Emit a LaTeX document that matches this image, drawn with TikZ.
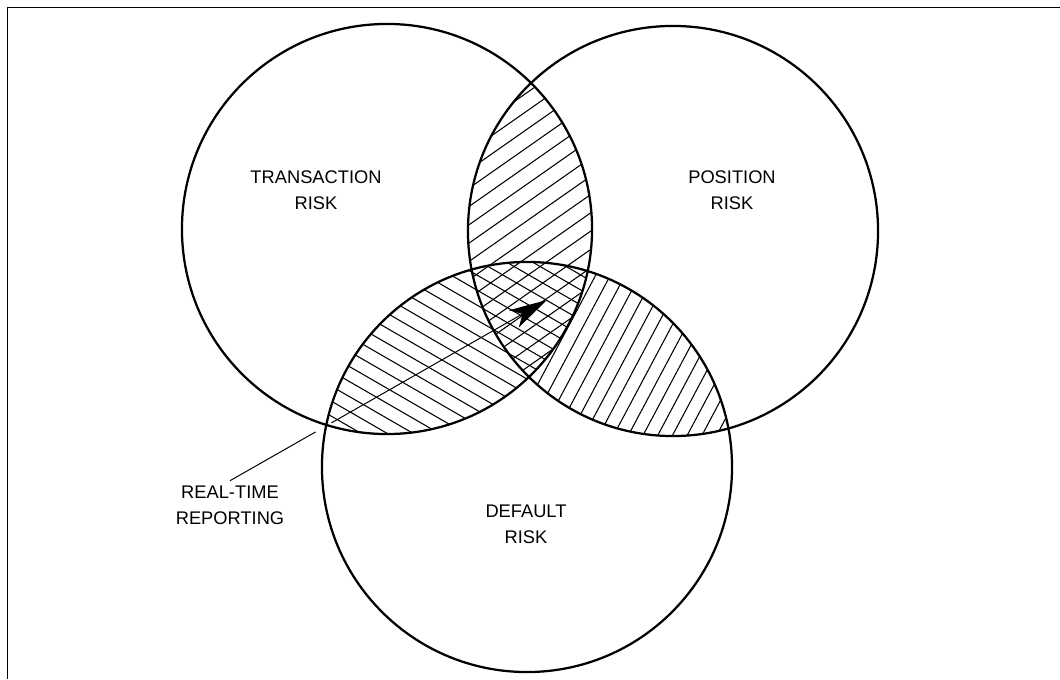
\documentclass[tikz,border=0pt]{standalone}
\usepackage{fontspec}
\setmainfont{Liberation Sans}
\usetikzlibrary{arrows.meta,calc}

\begin{document}
\begin{tikzpicture}[
	x=0.025cm, y=0.025cm,
	riskset/.style={circle, draw, line width=1.6pt, minimum size=10.25cm, inner sep=0pt},
	lbl/.style={align=center, font=\fontsize{13}{18.4}\selectfont},
	hatch/.style={line width=0.75pt},
	pointer/.style={line width=0.7pt},
	frame/.style={line width=1.4pt},
	>={Stealth[length=27pt,width=14pt,inset=7pt]}
	]
	\useasboundingbox (0,0) rectangle (1060,679);
	
	%-----------------------
	% Circle centres, radius
	%-----------------------
	\def\rad{205}
	\def\mx{527}  % middle of the hatching
	\def\my{330}
	
	%-----------------------
	% Frame (top and left)
	%-----------------------
	\draw[frame] (1060,671.5) -- (7.5,671.5) -- (7.5,0);
	
	%-----------------------
	% Hatching
	%-----------------------
	% position & default: steep lines
	\begin{scope}
		\clip (673,448) circle[radius=\rad];
		\clip (527,212) circle[radius=\rad];
		\begin{scope}[rotate around={62:(\mx,\my)}]
			\foreach \k in {-30,...,30}
			\draw[hatch] (\mx-400,\my+\k*13) -- (\mx+400,\my+\k*13);
		\end{scope}
	\end{scope}
	
	% middle part keeps only the cross hatching
	\begin{scope}
		\clip (387,450) circle[radius=\rad];
		\clip (673,448) circle[radius=\rad];
		\fill[white] (527,212) circle[radius=\rad];
	\end{scope}
	
	% transaction & position: rising lines
	\begin{scope}
		\clip (387,450) circle[radius=\rad];
		\clip (673,448) circle[radius=\rad];
		\begin{scope}[rotate around={35:(\mx,\my)}]
			\foreach \k in {-30,...,30}
			\draw[hatch] (\mx-400,\my+\k*15) -- (\mx+400,\my+\k*15);
		\end{scope}
	\end{scope}
	
	% transaction & default: falling lines
	\begin{scope}
		\clip (387,450) circle[radius=\rad];
		\clip (527,212) circle[radius=\rad];
		\begin{scope}[rotate around={-30:(\mx,\my)}]
			\foreach \k in {-30,...,30}
			\draw[hatch] (\mx-400,\my+\k*13) -- (\mx+400,\my+\k*13);
		\end{scope}
	\end{scope}
	
	%-----------------------
	% The three risks
	%-----------------------
	\node[riskset] (trans) at (387,450) {};
	\node[riskset] (posit) at (673,448) {};
	\node[riskset] (deflt) at (527,212) {};
	
	\node[lbl] (trans-l) at (316,489) {TRANSACTION\\RISK};
	\node[lbl] (posit-l) at (732,489) {POSITION\\RISK};
	\node[lbl] (deflt-l) at (526,155) {DEFAULT\\RISK};
	
	%-----------------------
	% Real-time reporting
	%-----------------------
	\node[lbl] (rtr) at (230,174) {REAL-TIME\\REPORTING};
	\coordinate (tip) at (547,379);
	
	\draw[pointer] (rtr.north) -- ($(rtr.north)!0.27!(tip)$);
	\draw[pointer,->] ($(rtr.north)!0.32!(tip)$) -- (tip);
	
\end{tikzpicture}
\end{document}
